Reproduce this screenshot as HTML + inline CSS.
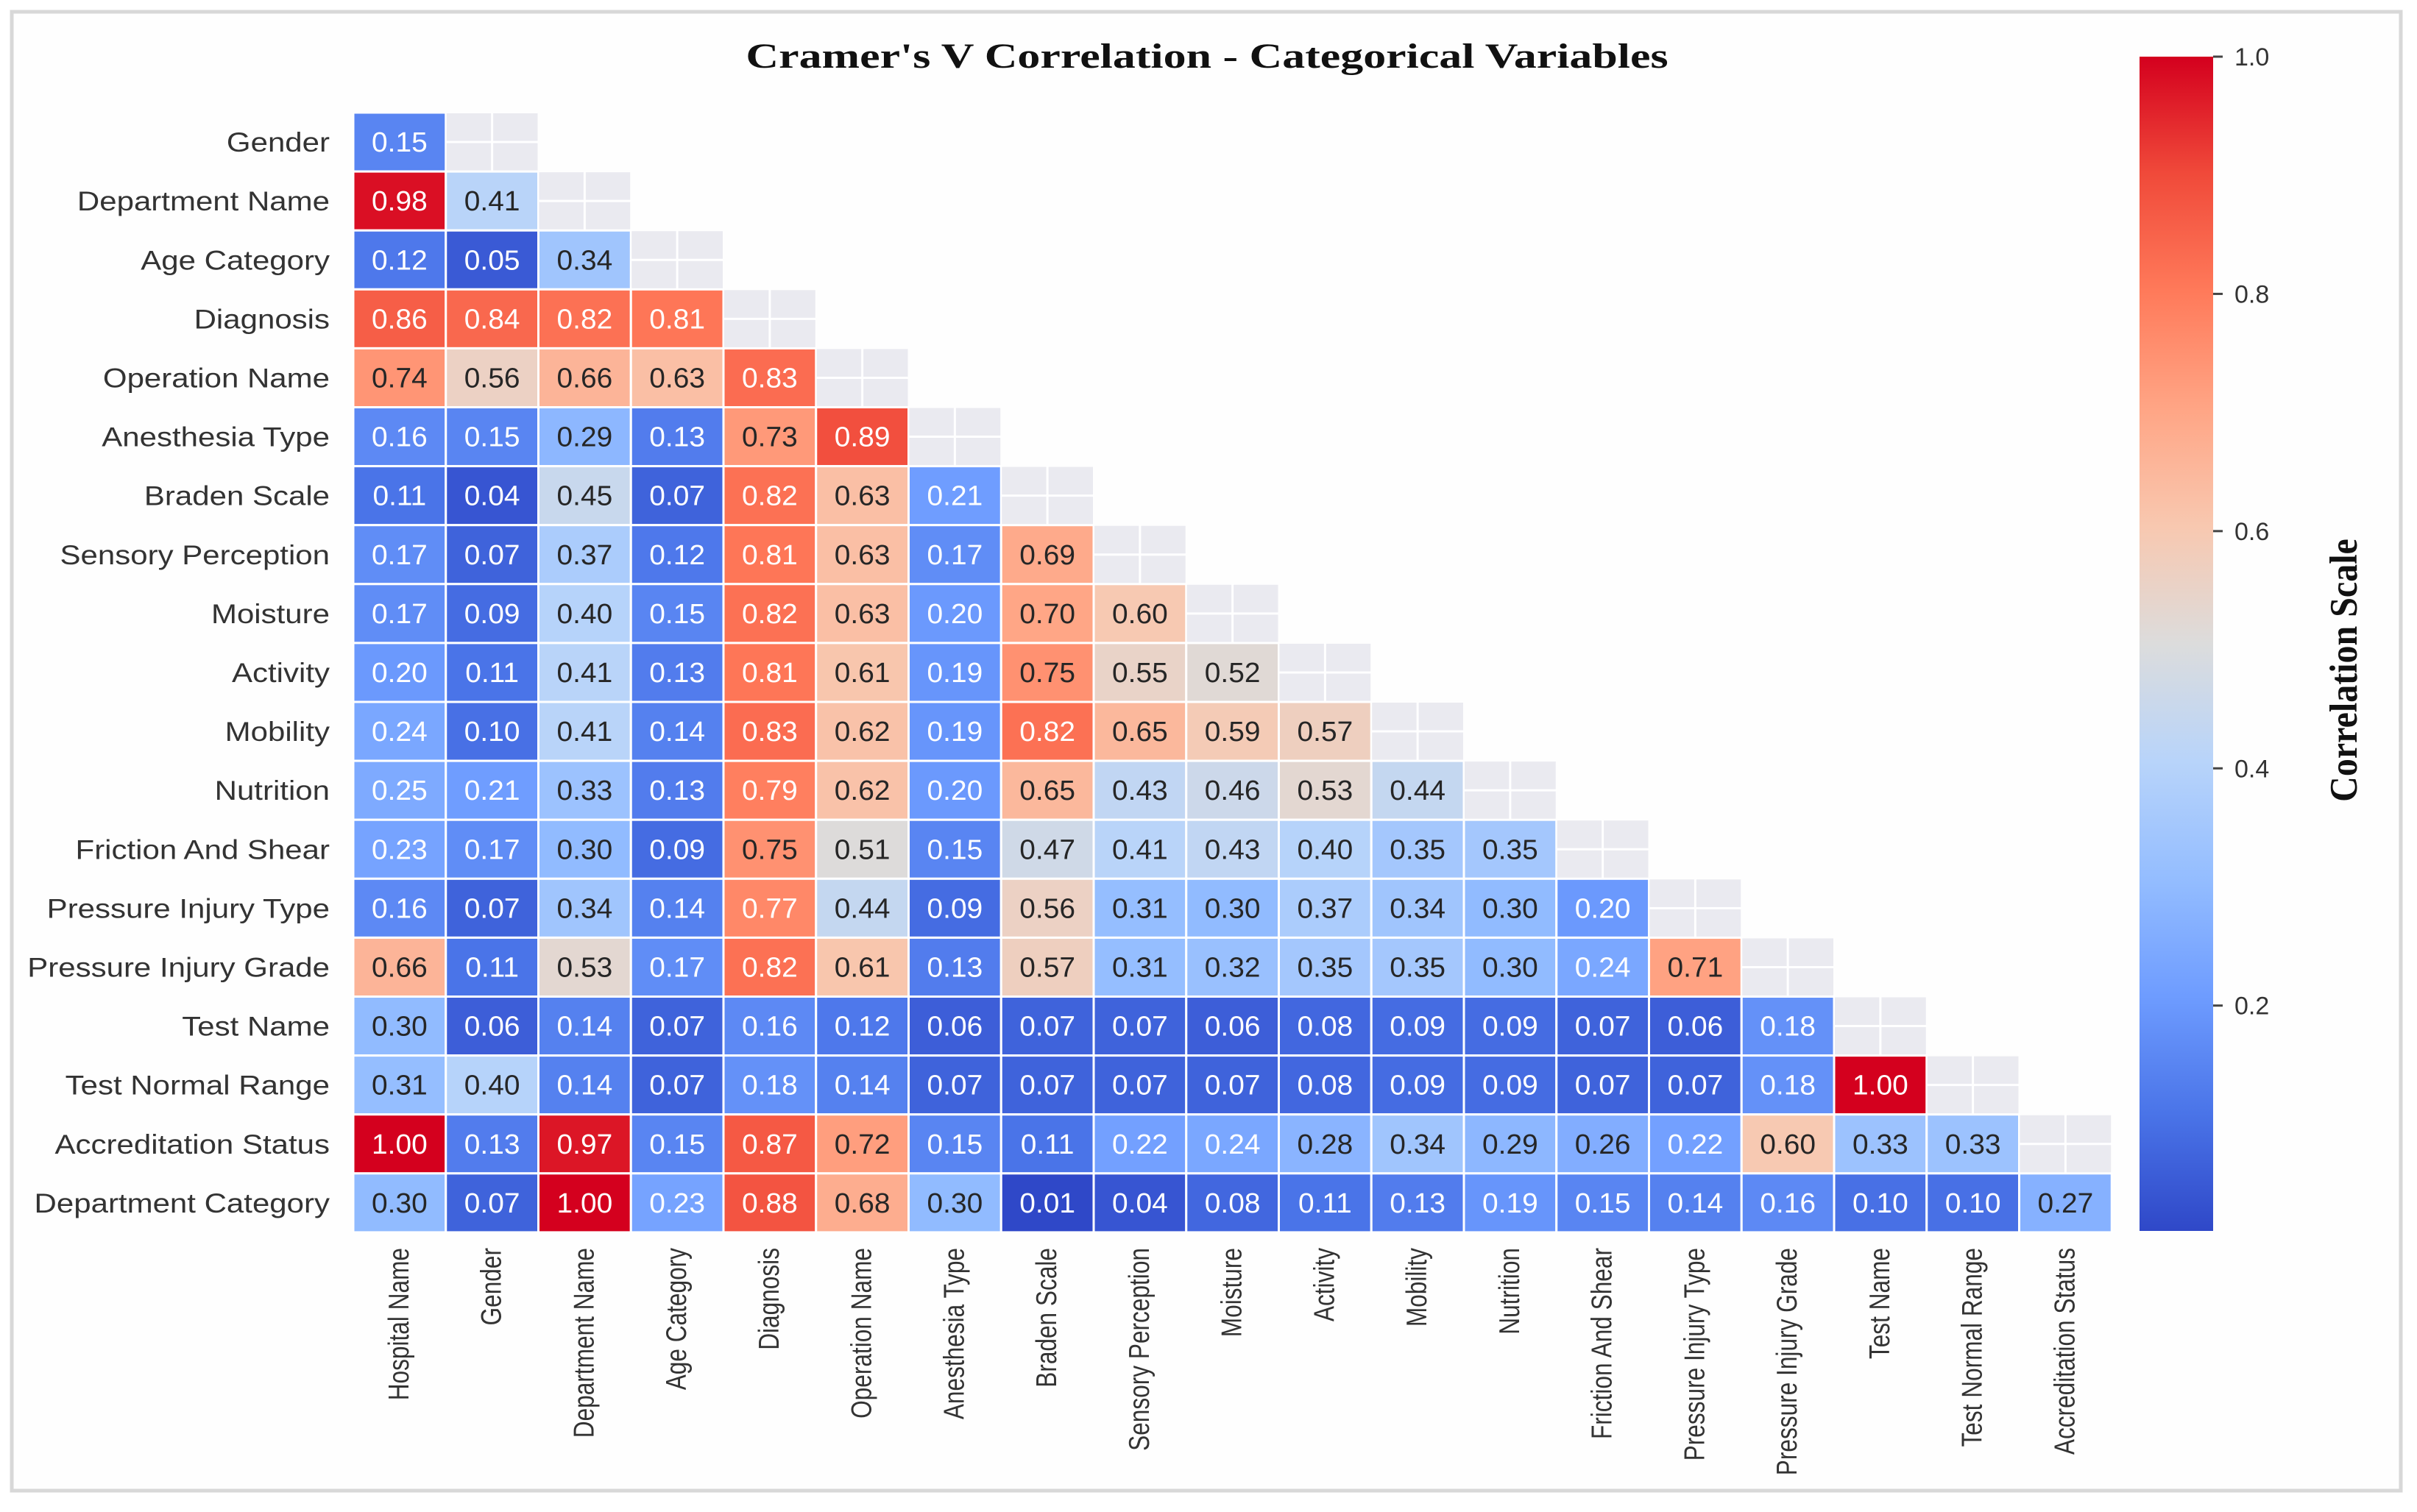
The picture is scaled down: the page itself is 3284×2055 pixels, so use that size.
<!DOCTYPE html>
<html><head><meta charset="utf-8"><style>
html,body{margin:0;padding:0;background:#fff;}
svg{display:block;}
</style></head><body>
<svg id="chart" width="3284" height="2055" viewBox="0 0 3284 2055" xmlns="http://www.w3.org/2000/svg">
  <rect x="16" y="16" width="3246" height="2010" fill="#fefefe" stroke="#d8d8d8" stroke-width="5"/>
  <text transform="translate(1640,92) scale(1.29,1)" text-anchor="middle" font-family="Liberation Serif, serif" font-weight="bold" font-size="48" fill="#111">Cramer's V Correlation - Categorical Variables</text>
  <g id="cells"></g>
  <g id="ylabels"></g>
  <g id="xlabels"></g>
  <defs>
    <linearGradient id="cbgrad" x1="0" y1="1" x2="0" y2="0">
      <stop offset="0" stop-color="#2f48c8"/><stop offset="0.1" stop-color="#4a74e8"/><stop offset="0.2" stop-color="#6e9cff"/><stop offset="0.3" stop-color="#94bdff"/><stop offset="0.4" stop-color="#b8d4fa"/><stop offset="0.5" stop-color="#dcdcdc"/><stop offset="0.6" stop-color="#f8c8b0"/><stop offset="0.7" stop-color="#ffa585"/><stop offset="0.8" stop-color="#ff7a5a"/><stop offset="0.9" stop-color="#f04a3a"/><stop offset="1" stop-color="#d4001e"/>
    </linearGradient>
  </defs>
  <rect x="2907" y="77" width="100" height="1596" fill="url(#cbgrad)"/>
  <g id="cbticks"></g>
  <text transform="translate(3202,911) rotate(-90) scale(0.96,1.05)" text-anchor="middle" font-family="Liberation Serif, serif" font-weight="bold" font-size="50" fill="#111">Correlation Scale</text>
</svg>
<script>
const rowLabels = ["Gender","Department Name","Age Category","Diagnosis","Operation Name","Anesthesia Type","Braden Scale","Sensory Perception","Moisture","Activity","Mobility","Nutrition","Friction And Shear","Pressure Injury Type","Pressure Injury Grade","Test Name","Test Normal Range","Accreditation Status","Department Category"];
const colLabels = ["Hospital Name","Gender","Department Name","Age Category","Diagnosis","Operation Name","Anesthesia Type","Braden Scale","Sensory Perception","Moisture","Activity","Mobility","Nutrition","Friction And Shear","Pressure Injury Type","Pressure Injury Grade","Test Name","Test Normal Range","Accreditation Status"];
const values = [
[0.15],
[0.98,0.41],
[0.12,0.05,0.34],
[0.86,0.84,0.82,0.81],
[0.74,0.56,0.66,0.63,0.83],
[0.16,0.15,0.29,0.13,0.73,0.89],
[0.11,0.04,0.45,0.07,0.82,0.63,0.21],
[0.17,0.07,0.37,0.12,0.81,0.63,0.17,0.69],
[0.17,0.09,0.40,0.15,0.82,0.63,0.20,0.70,0.60],
[0.20,0.11,0.41,0.13,0.81,0.61,0.19,0.75,0.55,0.52],
[0.24,0.10,0.41,0.14,0.83,0.62,0.19,0.82,0.65,0.59,0.57],
[0.25,0.21,0.33,0.13,0.79,0.62,0.20,0.65,0.43,0.46,0.53,0.44],
[0.23,0.17,0.30,0.09,0.75,0.51,0.15,0.47,0.41,0.43,0.40,0.35,0.35],
[0.16,0.07,0.34,0.14,0.77,0.44,0.09,0.56,0.31,0.30,0.37,0.34,0.30,0.20],
[0.66,0.11,0.53,0.17,0.82,0.61,0.13,0.57,0.31,0.32,0.35,0.35,0.30,0.24,0.71],
[0.30,0.06,0.14,0.07,0.16,0.12,0.06,0.07,0.07,0.06,0.08,0.09,0.09,0.07,0.06,0.18],
[0.31,0.40,0.14,0.07,0.18,0.14,0.07,0.07,0.07,0.07,0.08,0.09,0.09,0.07,0.07,0.18,1.00],
[1.00,0.13,0.97,0.15,0.87,0.72,0.15,0.11,0.22,0.24,0.28,0.34,0.29,0.26,0.22,0.60,0.33,0.33],
[0.30,0.07,1.00,0.23,0.88,0.68,0.30,0.01,0.04,0.08,0.11,0.13,0.19,0.15,0.14,0.16,0.10,0.10,0.27]
];
const cbTicks = [0.2,0.4,0.6,0.8,1.0];
const vmin = 0.01, vmax = 1.0;

const NS = "http://www.w3.org/2000/svg";
const X0 = 480, Y0 = 153, CW = 125.75, CH = 80.1;
const CB_TOP = 77, CB_BOT = 1673;
const xPos = i => X0 + i*CW;
const yPos = j => Y0 + j*CH;
const cbY = v => CB_BOT - (v - vmin)/(vmax - vmin)*(CB_BOT - CB_TOP);

const stops = ["#2f48c8","#4a74e8","#6e9cff","#94bdff","#b8d4fa","#dcdcdc","#f8c8b0","#ffa585","#ff7a5a","#f04a3a","#d4001e"].map(h=>[parseInt(h.substr(1,2),16),parseInt(h.substr(3,2),16),parseInt(h.substr(5,2),16)]);
function cmap(v){
  let t = Math.max(0, Math.min(1, (v - vmin)/(vmax - vmin)));
  let p = t*10, k = Math.min(9, Math.floor(p)), f = p - k;
  return stops[k].map((c,i)=>Math.round(c + (stops[k+1][i]-c)*f));
}
function lum(rgb){
  const l = rgb.map(c=>{c/=255;return c<=0.03928?c/12.92:Math.pow((c+0.055)/1.055,2.4);});
  return 0.2126*l[0]+0.7152*l[1]+0.0722*l[2];
}
function mk(tag, attrs, parent){
  const e = document.createElementNS(NS, tag);
  for (const k in attrs) e.setAttribute(k, attrs[k]);
  parent.appendChild(e);
  return e;
}
const cells = document.getElementById('cells');
values.forEach((row, j) => {
  row.forEach((v, i) => {
    const rgb = cmap(v);
    const r = mk('rect', {x: xPos(i), y: yPos(j), width: CW, height: CH, fill: `rgb(${rgb.join(',')})`, stroke: '#ffffff', 'stroke-width': 3}, cells);
    
    
    const t = mk('text', {transform: `translate(${xPos(i)+CW/2},${yPos(j)+CH/2+13}) scale(1.08,1.05)`, 'text-anchor': 'middle', 'font-family': 'Liberation Sans, sans-serif', 'font-size': 36, fill: lum(rgb) > 0.408 ? '#262626' : '#ffffff'}, cells);
    t.textContent = v.toFixed(2);
    
    
  });
  if (row.length < colLabels.length) {
    const i = row.length;
    const g = mk('rect', {x: xPos(i)+1, y: yPos(j)+1, width: CW-2, height: CH-2, fill: '#eaeaf0'}, cells);
    
    
    mk('line', {x1: xPos(i)+CW/2, x2: xPos(i)+CW/2, y1: yPos(j), y2: yPos(j)+CH, stroke: '#fff', 'stroke-width': 3}, cells);
    mk('line', {x1: xPos(i), x2: xPos(i)+CW, y1: yPos(j)+CH/2, y2: yPos(j)+CH/2, stroke: '#fff', 'stroke-width': 3}, cells);
  }
});
const yl = document.getElementById('ylabels');
rowLabels.forEach((lab, j) => {
  const t = mk('text', {transform: `translate(448,${yPos(j)+CH/2+13}) scale(1.2,1.05)`, 'text-anchor': 'end', 'font-family': 'Liberation Sans, sans-serif', 'font-size': 35, fill: '#333'}, yl);
  t.textContent = lab;
  
  
});
const xl = document.getElementById('xlabels');
colLabels.forEach((lab, i) => {
  const cx = xPos(i)+CW/2 + 12;
  const t = mk('text', {transform: `translate(${cx},1696) rotate(-90) scale(0.93,1.15)`, 'text-anchor': 'end', 'font-family': 'Liberation Sans, sans-serif', 'font-size': 34, fill: '#333'}, xl);
  t.textContent = lab;
  
  
});
const cb = document.getElementById('cbticks');
cbTicks.forEach(v => {
  const y = cbY(v);
  const l = mk('line', {x1: 3007, x2: 3020, y1: y, y2: y, stroke: '#444', 'stroke-width': 3}, cb);
  
  
  const t = mk('text', {x: 3036, y: y+12, 'font-family': 'Liberation Sans, sans-serif', 'font-size': 34, fill: '#333'}, cb);
  t.textContent = v.toFixed(1);
  
  
});
</script>
</body></html>
